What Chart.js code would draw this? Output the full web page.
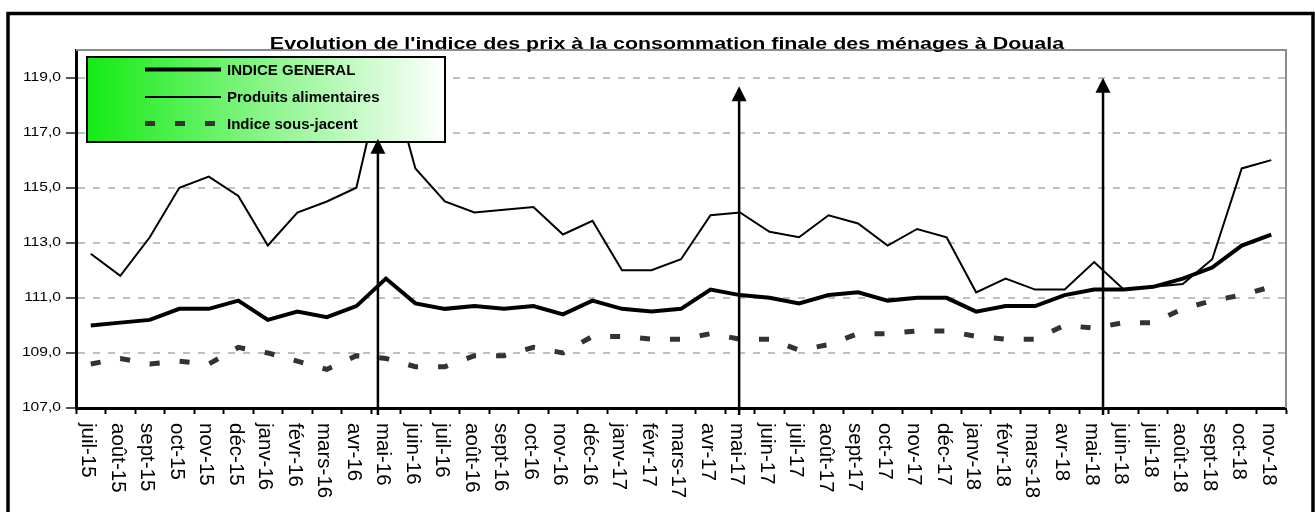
<!DOCTYPE html>
<html lang="fr">
<head>
<meta charset="utf-8">
<title>Indice des prix à la consommation - Douala</title>
<script src="https://cdn.jsdelivr.net/npm/chart.js@4.4.1/dist/chart.umd.min.js"></script>
<style>
  body { margin: 0; background: #fff; }
  #cadre { width: 1315px; height: 512px; }
</style>
</head>
<body>
<div id="cadre"><canvas id="grafico" width="1315" height="512"></canvas></div>
<script>
const titre = "Evolution de l'indice des prix à la consommation finale des ménages à Douala";

const mois = ['juil-15', 'août-15', 'sept-15', 'oct-15', 'nov-15', 'déc-15',
    'janv-16', 'févr-16', 'mars-16', 'avr-16', 'mai-16', 'juin-16', 'juil-16', 'août-16', 'sept-16', 'oct-16', 'nov-16', 'déc-16',
    'janv-17', 'févr-17', 'mars-17', 'avr-17', 'mai-17', 'juin-17', 'juil-17', 'août-17', 'sept-17', 'oct-17', 'nov-17', 'déc-17',
    'janv-18', 'févr-18', 'mars-18', 'avr-18', 'mai-18', 'juin-18', 'juil-18', 'août-18', 'sept-18', 'oct-18', 'nov-18'];

const indiceGeneral = [110.0, 110.1, 110.2, 110.6, 110.6, 110.9,
    110.2, 110.5, 110.3, 110.7, 111.7, 110.8, 110.6, 110.7, 110.6, 110.7, 110.4, 110.9,
    110.6, 110.5, 110.6, 111.3, 111.1, 111.0, 110.8, 111.1, 111.2, 110.9, 111.0, 111.0,
    110.5, 110.7, 110.7, 111.1, 111.3, 111.3, 111.4, 111.7, 112.1, 112.9, 113.3];

const produitsAlimentaires = [112.6, 111.8, 113.2, 115.0, 115.4, 114.7,
    112.9, 114.1, 114.5, 115.0, 119.6, 115.7, 114.5, 114.1, 114.2, 114.3, 113.3, 113.8,
    112.0, 112.0, 112.4, 114.0, 114.1, 113.4, 113.2, 114.0, 113.7, 112.9, 113.5, 113.2,
    111.2, 111.7, 111.3, 111.3, 112.3, 111.3, 111.4, 111.5, 112.4, 115.7, 116.0];

const indiceSousJacent = [108.6, 108.8, 108.6, 108.7, 108.6, 109.2,
    109.0, 108.7, 108.4, 108.9, 108.8, 108.5, 108.5, 108.9, 108.9, 109.2, 109.0, 109.6,
    109.6, 109.5, 109.5, 109.7, 109.5, 109.5, 109.1, 109.3, 109.7, 109.7, 109.8, 109.8,
    109.6, 109.5, 109.5, 110.0, 109.9, 110.1, 110.1, 110.6, 110.9, 111.1, 111.4];

const graduationsY = [107, 109, 111, 113, 115, 117, 119];

// flèches verticales : position (indice du mois) et sommet (valeur de l'indice)
const flechesMois = [9.73, 21.97, 34.3];
const flechesSommet = [116.78, 118.68, 118.99];
const flecheBase = 106.75;

const POLICE = "'Liberation Sans', Arial, sans-serif";

// dessin du cadre, du titre, de la légende, des flèches et des étiquettes
const decor = {
    id: 'decor',
    beforeDraw(chart) {
        const ctx = chart.ctx;
        ctx.save();
        ctx.fillStyle = '#fff';
        ctx.fillRect(0, 0, chart.width, chart.height);
        ctx.restore();
    },
    beforeDatasetsDraw(chart) {
        const ctx = chart.ctx;
        const a = chart.chartArea;
        ctx.save();
        ctx.strokeStyle = '#8c8c8c';
        ctx.lineWidth = 2;
        ctx.beginPath();
        ctx.moveTo(a.left, a.top);
        ctx.lineTo(a.right, a.top);
        ctx.lineTo(a.right, a.bottom);
        ctx.stroke();
        ctx.restore();
    },
    afterDatasetsDraw(chart) {
        const ctx = chart.ctx;
        const sx = chart.scales.x;
        const sy = chart.scales.y;

        // légende
        ctx.save();
        const lx = 87, ly = 57, lw = 358, lh = 85;
        let degrade = ctx.createLinearGradient(lx, 0, lx + lw, 0);
        degrade.addColorStop(0, 'rgb(20,235,20)');
        degrade.addColorStop(1, '#ffffff');
        ctx.fillStyle = degrade;
        ctx.fillRect(lx, ly, lw, lh);
        ctx.strokeStyle = '#000';
        ctx.lineWidth = 2;
        ctx.strokeRect(lx, ly, lw, lh);
        const lignes = [69.5, 97, 123.5];
        chart.data.datasets.forEach((ds, i) => {
            ctx.save();
            ctx.strokeStyle = ds.borderColor;
            ctx.lineWidth = ds.borderWidth;
            ctx.setLineDash(ds.borderDash || []);
            ctx.beginPath();
            ctx.moveTo(145, lignes[i]);
            ctx.lineTo(221, lignes[i]);
            ctx.stroke();
            ctx.restore();
            ctx.fillStyle = '#000';
            ctx.font = 'bold 15px ' + POLICE;
            ctx.textAlign = 'left';
            ctx.textBaseline = 'middle';
            ctx.fillText(ds.label, 227, lignes[i] + 1);
        });
        ctx.restore();

        // flèches
        ctx.save();
        ctx.strokeStyle = '#000';
        ctx.fillStyle = '#000';
        flechesMois.forEach((m, k) => {
            let x = sx.getPixelForValue(m);
            let yTop = sy.getPixelForValue(flechesSommet[k]);
            let yBas = sy.getPixelForValue(flecheBase);
            ctx.lineWidth = 2.5;
            ctx.beginPath();
            ctx.moveTo(x, yBas);
            ctx.lineTo(x, yTop + 12);
            ctx.stroke();
            ctx.beginPath();
            ctx.moveTo(x, yTop);
            ctx.lineTo(x - 7.5, yTop + 15);
            ctx.lineTo(x + 7.5, yTop + 15);
            ctx.closePath();
            ctx.fill();
        });
        ctx.restore();
    },
    afterDraw(chart) {
        const ctx = chart.ctx;
        const sx = chart.scales.x;
        const sy = chart.scales.y;
        ctx.save();
        ctx.fillStyle = '#000';

        // titre
        ctx.save();
        ctx.font = 'bold 17px ' + POLICE;
        ctx.textAlign = 'center';
        ctx.textBaseline = 'alphabetic';
        ctx.translate(667, 49);
        ctx.scale(1.26, 1);
        ctx.fillText(titre, 0, 0);
        ctx.restore();

        // étiquettes de l'axe Y
        graduationsY.forEach(v => {
            ctx.save();
            ctx.font = '12.6px ' + POLICE;
            ctx.textAlign = 'right';
            ctx.textBaseline = 'middle';
            ctx.translate(61, sy.getPixelForValue(v));
            ctx.scale(1.24, 1);
            ctx.fillText(v.toFixed(1).replace('.', ','), 0, 0);
            ctx.restore();
        });

        // étiquettes de l'axe X (verticales, lues de haut en bas)
        mois.forEach((m, i) => {
            ctx.save();
            ctx.font = '20.5px ' + POLICE;
            ctx.textAlign = 'left';
            ctx.textBaseline = 'middle';
            ctx.translate(sx.getPixelForValue(i) - 3, 423);
            ctx.rotate(Math.PI / 2);
            ctx.fillText(m, 0, 0);
            ctx.restore();
        });

        // cadre extérieur
        ctx.strokeStyle = '#000';
        ctx.lineWidth = 3.5;
        ctx.strokeRect(8, 13.5, 1305, 520);
        ctx.restore();
    }
};

new Chart(document.getElementById('grafico').getContext('2d'), {
    type: 'line',
    data: {
        labels: mois,
        datasets: [{
            label: 'INDICE GENERAL',
            data: indiceGeneral,
            borderColor: '#000',
            borderWidth: 4,
            pointRadius: 0,
            tension: 0
        }, {
            label: 'Produits alimentaires',
            data: produitsAlimentaires,
            borderColor: '#000',
            borderWidth: 2,
            pointRadius: 0,
            tension: 0
        }, {
            label: 'Indice sous-jacent',
            data: indiceSousJacent,
            borderColor: '#333',
            borderWidth: 5,
            borderDash: [10, 20],
            pointRadius: 0,
            tension: 0
        }]
    },
    options: {
        responsive: false,
        animation: false,
        devicePixelRatio: 1,
        layout: { padding: { left: 0, top: 50, right: 29, bottom: 0 } },
        plugins: {
            legend: { display: false },
            title: { display: false },
            tooltip: { enabled: false }
        },
        scales: {
            x: {
                type: 'category',
                offset: true,
                grid: { display: true, drawOnChartArea: false, drawTicks: true, tickLength: 6, tickColor: '#000', tickWidth: 2, offset: true },
                border: { display: true, color: '#000', width: 3 },
                ticks: { display: false, autoSkip: false },
                afterFit: s => { s.height = 104; }
            },
            y: {
                min: 107,
                max: 120,
                afterBuildTicks: s => { s.ticks = graduationsY.map(v => ({ value: v })); },
                grid: {
                    color: c => (c.tick && c.tick.value === 107) ? 'rgba(0,0,0,0)' : '#c0c0c0',
                    lineWidth: 2,
                    tickLength: 10,
                    tickColor: '#555',
                    tickWidth: 2
                },
                border: { display: true, color: '#000', width: 3, dash: [7, 8] },
                ticks: { display: false },
                afterFit: s => { s.width = 76; }
            }
        }
    },
    plugins: [decor]
});
</script>
</body>
</html>
